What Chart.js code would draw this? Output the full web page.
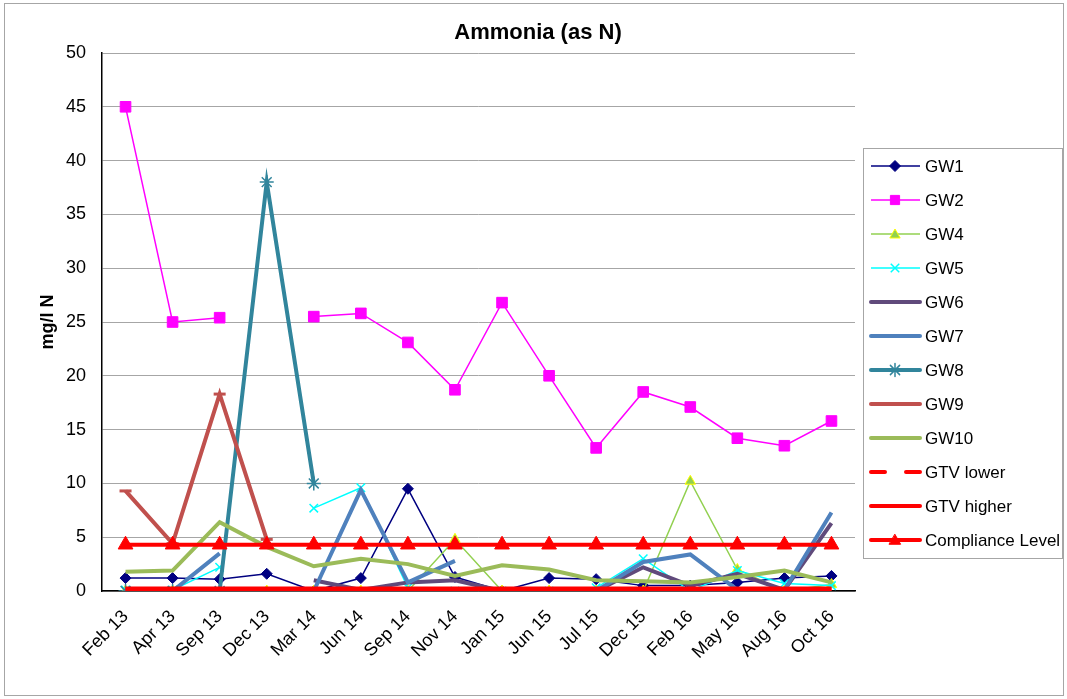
<!DOCTYPE html>
<html>
<head>
<meta charset="utf-8">
<script src="https://cdn.jsdelivr.net/npm/chart.js@4.4.0/dist/chart.umd.min.js"></script>
<style>
  html, body { margin: 0; padding: 0; background: #fff; }
  #wrap { width: 1067px; height: 699px; }
</style>
</head>
<body>
<div id="wrap"><canvas id="ammoniaChart" width="1067" height="699"></canvas></div>
<script>
// sampling rounds
const dates = ['Feb 13', 'Apr 13', 'Sep 13', 'Dec 13', 'Mar 14', 'Jun 14', 'Sep 14', 'Nov 14',
  'Jan 15', 'Jun 15', 'Jul 15', 'Dec 15', 'Feb 16', 'May 16', 'Aug 16', 'Oct 16'];

// mg/l N (null = no sample)
const gw1  = [1.2, 1.2, 1.1, 1.6, 0.0, 1.2, 9.5, 1.3, 0.0, 1.2, 1.1, 0.5, 0.5, 0.8, 1.2, 1.4];
const gw2  = [45.0, 25.0, 25.4, null, 25.5, 25.8, 23.1, 18.7, 26.8, 20.0, 13.3, 18.5, 17.1, 14.2, 13.5, 15.8];
const gw4  = [0.0, 0.0, 0.0, 0.0, 0.0, 0.0, 0.0, 4.8, 0.0, 0.0, 0.0, 0.0, 10.2, 2.0, 0.0, 0.6];
const gw5  = [0.1, 0.1, 2.2, null, 7.7, 9.6, 0.3, 0.0, 0.0, 0.0, 0.3, 3.0, 0.0, 1.9, 0.7, 0.5];
const gw6  = [null, null, null, null, 1.0, 0.1, 0.8, 1.0, 0.0, 0.0, 0.0, 2.2, 0.5, 1.6, 0.1, 6.3];
const gw7  = [null, 0.0, 3.5, null, 0.0, 9.4, 0.8, 2.8, null, 0.0, 0.0, 2.7, 3.4, 0.1, 0.1, 7.3];
const gw8  = [0.0, 0.0, 0.0, 38.0, 10.0, null, null, null, null, null, null, null, null, null, null, null];
const gw9  = [9.3, 4.4, 18.3, 4.8, null, null, null, null, null, null, null, null, null, null, null, null];
const gw10 = [1.8, 1.9, 6.4, 4.1, 2.3, 3.0, 2.5, 1.4, 2.4, 2.0, 1.0, 0.9, 0.8, 1.3, 1.9, 0.8];
const gtvLower   = dates.map(() => 0.12);
const gtvHigher  = dates.map(() => 0.18);
const compliance = dates.map(() => 4.3);

const yTicks = { min: 0, max: 50, step: 5 };

const FONT = "'Liberation Sans', Arial, sans-serif";

const series = [
  { label: 'GW1', data: gw1, color: '#000080', width: 1.5, style: 'rectRot', r: 5.5, fill: '#000080' },
  { label: 'GW2', data: gw2, color: '#FF00FF', width: 1.5, style: 'rect', r: 7.5, fill: '#FF00FF' },
  { label: 'GW4', data: gw4, color: '#92D050', width: 1.5, style: 'triangle', r: 6, fill: '#92D050', edge: '#FFFF00' },
  { label: 'GW5', data: gw5, color: '#00FFFF', width: 1.5, style: 'crossRot', r: 6, fill: '#00FFFF' },
  { label: 'GW6', data: gw6, color: '#604A7B', width: 4, style: false },
  { label: 'GW7', data: gw7, color: '#4F81BD', width: 4, style: false },
  { label: 'GW8', data: gw8, color: '#31859C', width: 4, style: 'star', r: 7, fill: '#31859C' },
  { label: 'GW9', data: gw9, color: '#C0504D', width: 4, style: 'line', r: 6, fill: '#C0504D' },
  { label: 'GW10', data: gw10, color: '#9BBB59', width: 4, style: false },
  { label: 'GTV lower', data: gtvLower, color: '#FF0000', width: 5, style: false, dash: [14, 8] },
  { label: 'GTV higher', data: gtvHigher, color: '#FF0000', width: 5, style: false },
  { label: 'Compliance Level', data: compliance, color: '#FF0000', width: 4, style: 'triangle', r: 8.5, fill: '#FF0000' }
];

// Excel draws later series on top
const datasets = series.map((s, i) => ({
  label: s.label,
  data: s.data,
  borderColor: s.color,
  borderWidth: s.width,
  borderDash: s.dash || [],
  backgroundColor: s.fill || s.color,
  pointStyle: s.style,
  pointRadius: s.style ? s.r : 0,
  pointBackgroundColor: s.fill || s.color,
  pointBorderColor: s.edge || s.color,
  pointBorderWidth: s.style === 'line' ? 3 : (s.style === 'crossRot' || s.style === 'star' ? 1.5 : 1),
  tension: 0,
  spanGaps: false,
  order: series.length - 1 - i
}));

// title, axis title, framed legend and outer border, drawn Excel-style
const excelDecor = {
  id: 'excelDecor',
  afterDraw(chart) {
    const ctx = chart.ctx;
    ctx.save();
    ctx.strokeStyle = '#A6A6A6';
    ctx.lineWidth = 1;
    ctx.strokeRect(4.5, 3.5, 1059, 692);

    ctx.fillStyle = '#000';
    ctx.font = 'bold 22px ' + FONT;
    ctx.textAlign = 'center';
    ctx.textBaseline = 'middle';
    ctx.fillText('Ammonia (as N)', 538, 33);

    ctx.save();
    ctx.translate(48, 322);
    ctx.rotate(-Math.PI / 2);
    ctx.font = 'bold 18px ' + FONT;
    ctx.fillText('mg/l N', 0, 0);
    ctx.restore();

    // legend
    ctx.strokeStyle = '#A6A6A6';
    ctx.strokeRect(863.5, 148.5, 199, 410);
    series.forEach((s, i) => {
      const y = 166 + i * 34;
      ctx.save();
      ctx.strokeStyle = s.color;
      ctx.lineWidth = Math.min(s.width, 4);
      ctx.lineCap = s.width > 2 ? 'round' : 'butt';
      ctx.beginPath();
      if (s.dash) {
        ctx.moveTo(871, y); ctx.lineTo(885, y);
        ctx.moveTo(906, y); ctx.lineTo(920, y);
      } else {
        ctx.moveTo(871, y); ctx.lineTo(920, y);
      }
      ctx.stroke();
      if (s.style && s.style !== 'line') {
        ctx.fillStyle = s.fill;
        ctx.strokeStyle = s.edge || s.color;
        ctx.lineWidth = (s.style === 'crossRot' || s.style === 'star') ? 1.5 : 1;
        const r = Math.min(s.r, 6.5);
        Chart.helpers.drawPoint(ctx, { pointStyle: s.style, radius: r, rotation: 0, borderWidth: ctx.lineWidth }, 895, y + (s.style === 'triangle' ? 1 : 0));
      }
      ctx.restore();
      ctx.fillStyle = '#000';
      ctx.font = '17px ' + FONT;
      ctx.textAlign = 'left';
      ctx.textBaseline = 'middle';
      ctx.fillText(s.label, 925, y + 1);
    });
    ctx.restore();
  }
};

new Chart(document.getElementById('ammoniaChart').getContext('2d'), {
  type: 'line',
  data: { labels: dates, datasets: datasets },
  plugins: [excelDecor],
  options: {
    responsive: false,
    animation: false,
    layout: { padding: { left: 0, right: 212, top: 53, bottom: 0 } },
    plugins: {
      legend: { display: false },
      title: { display: false },
      tooltip: { enabled: false }
    },
    scales: {
      x: {
        offset: true,
        afterFit(scale) { scale.height = 108; },
        grid: { display: false, drawTicks: false },
        border: { display: true, color: '#000', width: 1.5 },
        ticks: {
          color: '#000',
          font: { family: FONT, size: 18 },
          minRotation: 45,
          maxRotation: 45,
          autoSkip: false,
          padding: 15
        }
      },
      y: {
        min: yTicks.min,
        max: yTicks.max,
        afterFit(scale) { scale.width = 102; },
        grid: { color: '#A6A6A6', lineWidth: 1, drawTicks: false },
        border: { display: true, color: '#000', width: 1.5 },
        ticks: {
          stepSize: yTicks.step,
          color: '#000',
          font: { family: FONT, size: 18 },
          padding: 16
        }
      }
    }
  }
});
</script>
</body>
</html>
